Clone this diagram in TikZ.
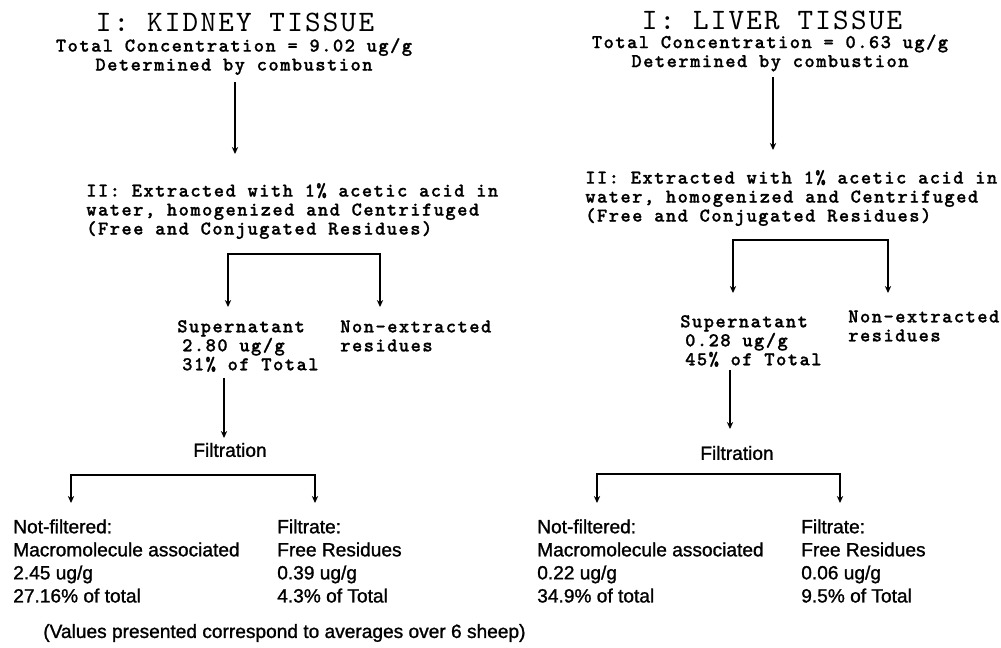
\documentclass[tikz,border=0pt]{standalone}
\usepackage{fontspec}
\setmainfont{Liberation Sans}[FakeBold=1.2]
\newfontfamily\courtitle{lmmono10-regular.otf}[LetterSpace=7.5]
\newfontfamily\courbody{lmmonolt10-bold.otf}[LetterSpace=7.5, FakeBold=1]
\usetikzlibrary{arrows.meta}

\tikzset{
  tissue/.style={font=\courtitle\fontsize{21.1}{22}\selectfont, inner sep=0pt},
  mono/.style={font=\courbody\fontsize{13.9}{13.5}\selectfont, inner sep=0pt, align=left, anchor=west},
  monoc/.style={mono, align=center, anchor=center},
  sans/.style={font=\fontsize{13.6}{16.4}\selectfont, inner sep=0pt, align=left, anchor=west},
  arr/.style={-{Stealth[length=5pt,width=4.5pt]}, line width=0.8pt},
}

\begin{document}
\begin{tikzpicture}[x=0.025cm, y=-0.025cm]
  \useasboundingbox (0,0) rectangle (1001,647);

  % kidney
  \node[tissue] (kt) at (235,22) {I: KIDNEY TISSUE};
  \node[monoc] (ktot) at (234,56.5) {Total Concentration = 9.02 ug/g\\Determined by combustion};
  \node[mono] (kext) at (86,211) {II: Extracted with 1\% acetic acid in\\water, homogenized and Centrifuged\\(Free and Conjugated Residues)};
  \node[mono] (ksup) at (177,346) {Supernatant\\\hspace{3.5pt}2.80 ug/g\\\hspace{3.5pt}31\% of Total};
  \node[mono] (knon) at (340,336) {Non-extracted\\residues};
  \node[sans, anchor=center] (kfil) at (230,450) {Filtration};
  \node[sans] (knf) at (13,561) {Not-filtered:\\Macromolecule associated\\2.45 ug/g\\27.16\% of total};
  \node[sans] (kfr) at (277,561) {Filtrate:\\Free Residues\\0.39 ug/g\\4.3\% of Total};

  \coordinate (ka) at (235,154);
  \coordinate (kf) at (304,254);
  \coordinate (kfa) at (228,307);
  \coordinate (kfb) at (380,307);
  \coordinate (kb) at (224,438);
  \coordinate (kg) at (193,475);
  \coordinate (kga) at (71,503);
  \coordinate (kgb) at (315,503);
  \draw[arr, shorten <=5pt] (ktot.south -| ka) -- (ka);
  \draw[arr] (kf) -| (kfa);
  \draw[arr] (kf) -| (kfb);
  \draw[arr, shorten <=4pt] (ksup.south -| kb) -- (kb);
  \draw[arr] (kg) -| (kga);
  \draw[arr] (kg) -| (kgb);

  % liver
  \node[tissue] (lt) at (772,20) {I: LIVER TISSUE};
  \node[monoc] (ltot) at (770,53) {Total Concentration = 0.63 ug/g\\Determined by combustion};
  \node[mono] (lext) at (585,198) {II: Extracted with 1\% acetic acid in\\water, homogenized and Centrifuged\\(Free and Conjugated Residues)};
  \node[mono] (lsup) at (680,341) {Supernatant\\\hspace{3.5pt}0.28 ug/g\\\hspace{3.5pt}45\% of Total};
  \node[mono] (lnon) at (848,326) {Non-extracted\\residues};
  \node[sans, anchor=center] (lfil) at (737,453) {Filtration};
  \node[sans] (lnf) at (537,561) {Not-filtered:\\Macromolecule associated\\0.22 ug/g\\34.9\% of total};
  \node[sans] (lfr) at (801,561) {Filtrate:\\Free Residues\\0.06 ug/g\\9.5\% of Total};

  \coordinate (la) at (773,150);
  \coordinate (lf) at (810,240);
  \coordinate (lfa) at (733,293);
  \coordinate (lfb) at (888,293);
  \coordinate (lb) at (730,429);
  \coordinate (lg) at (718,474);
  \coordinate (lga) at (597,503);
  \coordinate (lgb) at (840,503);
  \draw[arr, shorten <=4pt] (ltot.south -| la) -- (la);
  \draw[arr] (lf) -| (lfa);
  \draw[arr] (lf) -| (lfb);
  \draw[arr, shorten <=2pt] (lsup.south -| lb) -- (lb);
  \draw[arr] (lg) -| (lga);
  \draw[arr] (lg) -| (lgb);

  \node[sans] (note) at (43,633) {(Values presented correspond to averages over 6 sheep)};
\end{tikzpicture}
\end{document}
